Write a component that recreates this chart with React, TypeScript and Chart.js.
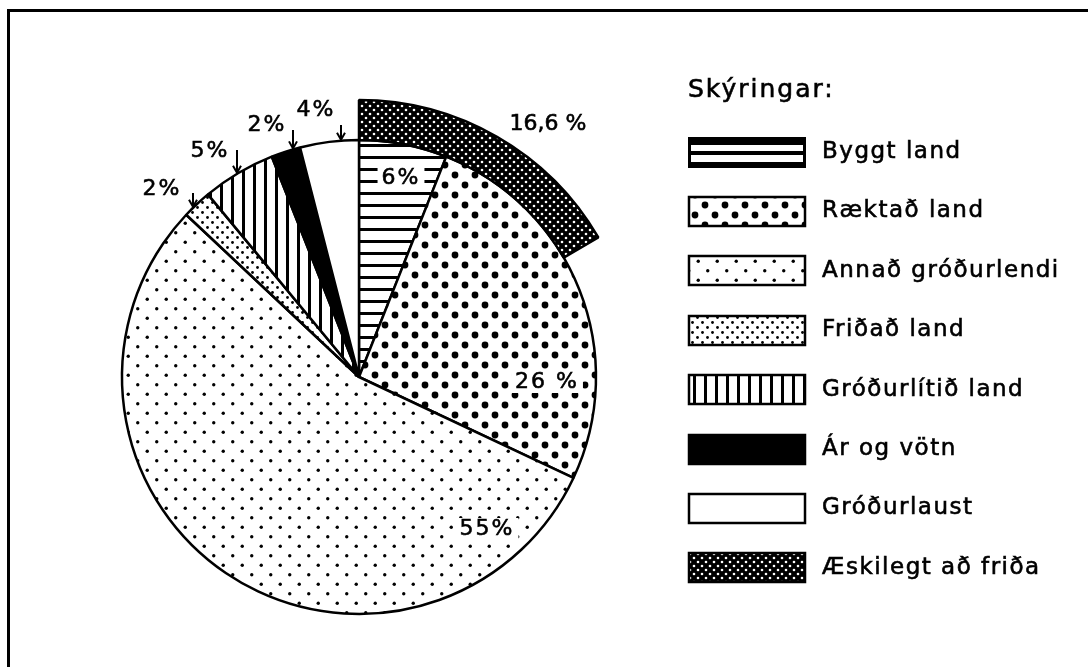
import React, { useEffect, useRef } from "react";
import { Chart, registerables } from "chart.js";

Chart.register(...registerables);

// ---------- data ----------
const categories = [
  "Byggt land",
  "Ræktað land",
  "Annað gróðurlendi",
  "Friðað land",
  "Gróðurlítið land",
  "Ár og vötn",
  "Gróðurlaust",
];
const shares = [6, 26, 55, 2, 5, 2, 4];
const shareLabels = ["6%", "26 %", "55%", "2%", "5%", "2%", "4%"];
const protectCategory = "Æskilegt að friða";
const protectShare = 16.6;
const protectLabel = "16,6 %";
const legendTitle = "Skýringar:";

// ---------- layout / style ----------
const W = 1088;
const H = 667;
const CX = 359;
const CY = 377;
const R_TOTAL = 277;
const RING_W = 40;
const FONT = "DejaVu Sans";

// pattern keys per category (same order as categories)
const sliceStyles = ["hstripe", "bigdots", "smalldots", "densedots", "vstripe", "black", "white"];

// label placement relative to pie centre
const labelLayout = [
  { dx: 42, dy: -199, bg: true },
  { dx: 188, dy: 5, bg: true },
  { dx: 128, dy: 152, bg: true },
  { dx: -197, dy: -188, arrow: { dx: -166, dy0: -184 } },
  { dx: -149, dy: -226, arrow: { dx: -122, dy0: -227 } },
  { dx: -92, dy: -252, arrow: { dx: -66, dy0: -247 } },
  { dx: -43, dy: -267, arrow: { dx: -18, dy0: -252 } },
];
const protectLabelPos = { dx: 189, dy: -253 };

function makePattern(w: number, h: number, bg: string, draw: (g: CanvasRenderingContext2D) => void) {
  const c = document.createElement("canvas");
  c.width = w;
  c.height = h;
  const g = c.getContext("2d")!;
  g.fillStyle = bg;
  g.fillRect(0, 0, w, h);
  draw(g);
  return g.createPattern(c, "repeat")!;
}

function dots(g: CanvasRenderingContext2D, pts: number[][], r: number, color: string) {
  g.fillStyle = color;
  for (const [x, y] of pts) {
    g.beginPath();
    g.arc(x, y, r, 0, Math.PI * 2);
    g.fill();
  }
}

function buildPatterns(): Record<string, any> {
  return {
    hstripe: makePattern(12, 12, "#fff", (g) => {
      g.fillStyle = "#000";
      g.fillRect(0, 0, 12, 3);
    }),
    bigdots: makePattern(20, 20, "#fff", (g) =>
      dots(g, [[5, 5], [15, 15], [-5, 15], [25, 5], [5, 25], [15, -5]], 3.4, "#000")
    ),
    smalldots: makePattern(19, 19, "#fff", (g) =>
      dots(g, [[4.75, 4.75], [14.25, 14.25]], 1.7, "#000")
    ),
    densedots: makePattern(10, 10, "#fff", (g) =>
      dots(g, [[2.5, 2.5], [7.5, 7.5]], 1.4, "#000")
    ),
    vstripe: makePattern(11, 11, "#fff", (g) => {
      g.fillStyle = "#000";
      g.fillRect(0, 0, 3, 11);
    }),
    black: "#000",
    white: "#fff",
    ring: makePattern(8, 8, "#000", (g) => dots(g, [[2, 2], [6, 6]], 1.3, "#fff")),
  };
}

export default function App() {
  const ref = useRef<HTMLCanvasElement | null>(null);

  useEffect(() => {
    const canvas = ref.current;
    if (!canvas) return;
    const pats = buildPatterns();

    const overlay = {
      id: "overlay",
      afterDraw(chart: any) {
        const ctx: CanvasRenderingContext2D = chart.ctx;
        const arc = chart.getDatasetMeta(1).data[0] as any;
        const cx = arc.x;
        const cy = arc.y;
        const R = arc.outerRadius;
        ctx.save();

        const text = (t: string, x: number, y: number) => {
          ctx.fillStyle = "#000";
          ctx.fillText(t, x, y);
          ctx.lineWidth = 0.6;
          ctx.strokeStyle = "#000";
          ctx.strokeText(t, x, y);
        };

        // frame (top and left edges)
        ctx.fillStyle = "#000";
        ctx.fillRect(7, 9, W - 7, 3);
        ctx.fillRect(7, 9, 3, H - 9);

        // legend
        ctx.textBaseline = "middle";
        ctx.textAlign = "left";
        (ctx as any).letterSpacing = "2px";
        ctx.font = `25px "${FONT}"`;
        text(legendTitle, 688, 90);

        const entries = [...categories, protectCategory];
        const styles = [...sliceStyles, "ring"];
        const bx = 688;
        const bw = 118;
        const bh = 31;
        entries.forEach((name, i) => {
          const yc = 152 + i * 59.4;
          const y0 = Math.round(yc - bh / 2);
          const st = styles[i];
          if (st === "hstripe") {
            ctx.fillStyle = "#000";
            ctx.fillRect(bx, y0, bw, bh);
            ctx.fillStyle = "#fff";
            ctx.fillRect(bx + 3, y0 + 8, bw - 6, 6);
            ctx.fillRect(bx + 3, y0 + 18, bw - 6, 7);
          } else {
            ctx.fillStyle = pats[st];
            ctx.fillRect(bx, y0, bw, bh);
            ctx.lineWidth = 2.5;
            ctx.strokeStyle = "#000";
            ctx.strokeRect(bx + 1, y0 + 1, bw - 2, bh - 2);
          }
          ctx.font = `23px "${FONT}"`;
          (ctx as any).letterSpacing = "1.5px";
          text(name, 822, yc);
        });

        // pie labels
        ctx.textAlign = "center";
        ctx.font = `22px "${FONT}"`;
        const drawLabel = (t: string, x: number, y: number, bg: boolean, ls: string) => {
          (ctx as any).letterSpacing = ls;
          if (bg) {
            const w = ctx.measureText(t).width;
            ctx.fillStyle = "#fff";
            ctx.fillRect(x - w / 2 - 4, y - 11, w + 8, 22);
          }
          text(t, x, y);
        };
        shareLabels.forEach((t, i) => {
          const L: any = labelLayout[i];
          drawLabel(t, cx + L.dx, cy + L.dy, !!L.bg, "2px");
          if (L.arrow) {
            const ax = cx + L.arrow.dx;
            const ay0 = cy + L.arrow.dy0;
            const tip = cy - Math.sqrt(R * R - L.arrow.dx * L.arrow.dx) - 1;
            ctx.strokeStyle = "#000";
            ctx.lineWidth = 2;
            ctx.beginPath();
            ctx.moveTo(ax, ay0);
            ctx.lineTo(ax, tip);
            ctx.moveTo(ax - 4, tip - 7);
            ctx.lineTo(ax, tip);
            ctx.lineTo(ax + 4, tip - 7);
            ctx.stroke();
          }
        });
        drawLabel(protectLabel, cx + protectLabelPos.dx, cy + protectLabelPos.dy, false, "0px");
        ctx.restore();
      },
    };

    const chart = new Chart(canvas, {
      type: "pie",
      data: {
        labels: categories,
        datasets: [
          {
            label: protectCategory,
            data: [protectShare, 100 - protectShare],
            backgroundColor: [pats.ring, "rgba(0,0,0,0)"],
            borderColor: ["#000", "rgba(0,0,0,0)"],
            borderWidth: [2.5, 0],
            weight: RING_W,
          } as any,
          {
            label: "Land",
            data: shares,
            backgroundColor: sliceStyles.map((s) => pats[s]),
            borderColor: "#000",
            borderWidth: 2.5,
            weight: R_TOTAL - RING_W,
          } as any,
        ],
      },
      options: {
        responsive: false,
        animation: false,
        events: [],
        radius: R_TOTAL,
        layout: {
          padding: { left: CX - 290, right: W - (CX + 290), top: CY - 280, bottom: H - (CY + 280) },
        },
        plugins: {
          legend: { display: false },
          tooltip: { enabled: false },
        },
      } as any,
      plugins: [overlay],
    });
    return () => chart.destroy();
  }, []);

  return (
    <div style={{ position: "fixed", left: 0, top: 0, width: W, height: H, background: "#fff" }}>
      <canvas ref={ref} width={W} height={H} style={{ display: "block" }} />
    </div>
  );
}
